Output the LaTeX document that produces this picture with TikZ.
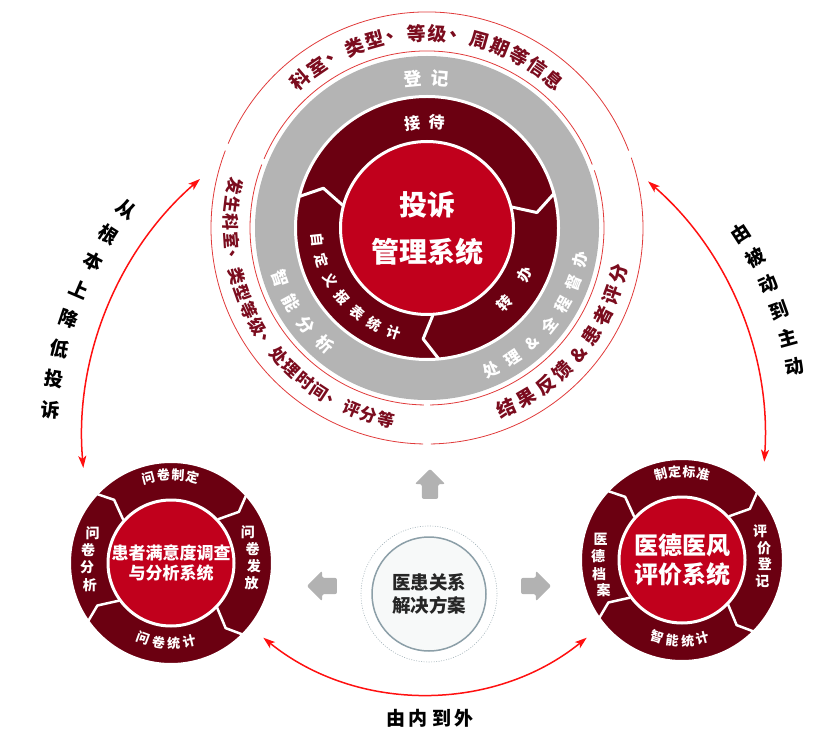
\documentclass[tikz,border=0pt]{standalone}
\usepackage{fontspec}
\setmainfont{Noto Sans CJK SC}
\usetikzlibrary{arrows.meta,shapes.arrows}
\definecolor{maroon}{HTML}{6B0011}
\definecolor{crimson}{HTML}{C1001C}
\definecolor{band}{HTML}{B4B4B4}
\definecolor{hair}{HTML}{E03A3A}
\definecolor{wine}{HTML}{7B0C1E}
\definecolor{flowred}{HTML}{FF1010}
\definecolor{block}{HTML}{B2B2B2}
\definecolor{rim}{HTML}{8C9FA8}
\definecolor{hubfill}{HTML}{F7F9F9}

\begin{document}
\begin{tikzpicture}[x=1pt,y=1pt,>={Stealth[length=12pt,width=8pt,inset=3pt]},
    core/.style={circle,fill=crimson,draw=white,line width=3pt,text=white,align=center,inner sep=0pt},
    ring/.style={circle,fill=maroon,draw=white,line width=3pt,inner sep=0pt},
    cut/.style={draw=white,line width=3pt,line join=round},
    hairline/.style={draw=hair,line width=0.8pt},
    outer/.style={text=wine,font=\bfseries\fontsize{19}{19}\selectfont,inner sep=0pt},
    onband/.style={text=white,font=\bfseries\fontsize{17}{17}\selectfont,inner sep=0pt},
    onring/.style={text=white,font=\bfseries\fontsize{15}{15}\selectfont,inner sep=0pt},
    small/.style={text=white,font=\bfseries\fontsize{13}{13}\selectfont,inner sep=0pt},
    side/.style={font=\bfseries\fontsize{19}{19}\selectfont,inner sep=0pt},
    flow/.style={<->,draw=flowred,line width=1.5pt},
    blockarrow/.style={single arrow,fill=block,inner sep=8pt,minimum height=30pt,single arrow head extend=7pt,rounded corners=2pt}]

    \useasboundingbox (0,0) rectangle (824,740);

    % complaint system
    \node[circle,fill=band,minimum size=344pt,inner sep=0pt] (band) at (427,512) {};
    \node[ring,minimum size=263pt] (ring) at (band) {};
    \node[core,minimum size=173pt,font=\bfseries\fontsize{28}{47}\selectfont] (tousu) at (band) {投诉\\管理系统};
    \begin{scope}[shift={(band.center)}]
    \foreach \a in {166,15,-85}
        \draw[cut] (\a:131) -- (\a-7:111) -- (\a-1:87);
    \foreach \r in {177,216}
        \foreach \s/\e in {21/157,159/269,271/379}
            \draw[hairline] (\s:\r) arc[start angle=\s,end angle=\e,radius=\r];
    \foreach \ch [count=\i, evaluate=\i as \a using 130.6-(\i-1)*6.25] in {科,室,、,类,型,、,等,级,、,周,期,等,信,息}
        \node[outer,rotate=\a-90] at (\a:195) {\ch};
    \foreach \ch [count=\i, evaluate=\i as \a using 167.8+(\i-1)*5.3] in {发,生,科,室,、,类,型,等,级,、,处,理,时,间,、,评,分,等}
        \node[outer,font=\bfseries\fontsize{17}{17}\selectfont,rotate=\a+90] at (\a:196) {\ch};
    \foreach \ch [count=\i, evaluate=\i as \a using -66.3+(\i-1)*6.63] in {结,果,反,馈,\&,患,者,评,分}
        \node[outer,rotate=\a+90] at (\a:197) {\ch};
    \foreach \ch [count=\i, evaluate=\i as \a using 95.4-(\i-1)*10.4] in {登,记}
        \node[onband,font=\bfseries\fontsize{18}{18}\selectfont,rotate=\a-90] at (\a:150) {\ch};
    \foreach \ch [count=\i, evaluate=\i as \a using 198.8+(\i-1)*10] in {智,能,分,析}
        \node[onband,rotate=\a+90] at (\a:155) {\ch};
    \foreach \ch [count=\i, evaluate=\i as \a using -65.5+(\i-1)*9] in {处,理,\&,全,程,督,办}
        \node[onband,font=\bfseries\fontsize{16}{16}\selectfont,rotate=\a+90] at (\a:156) {\ch};
    \foreach \ch [count=\i, evaluate=\i as \a using 98-(\i-1)*13.4] in {接,待}
        \node[onring,font=\bfseries\fontsize{16}{16}\selectfont,rotate=\a-90] at (\a:106) {\ch};
    \foreach \ch [count=\i, evaluate=\i as \a using 186.4+(\i-1)*11] in {自,定,义,报,表,统,计}
        \node[onring,font=\bfseries\fontsize{14}{14}\selectfont,rotate=\a+90] at (\a:110) {\ch};
    \foreach \ch [count=\i, evaluate=\i as \a using -44+(\i-1)*18.4] in {转,办}
        \node[onring,rotate=\a+90] at (\a:108) {\ch};
    \end{scope}

    % survey system
    \node[ring,minimum size=203pt] (wheel1) at (171,177) {};
    \node[core,minimum size=126pt,font=\bfseries\fontsize{17}{20}\selectfont] (survey) at (wheel1) {患者满意度调查\\与分析系统};
    \begin{scope}[shift={(wheel1.center)}]
    \foreach \a in {42,137,215,-45}
        \draw[cut,line width=2.5pt] (\a:101) -- (\a-5:85) -- (\a+1:64);
    \foreach \ch [count=\i, evaluate=\i as \a using 104.5-(\i-1)*9.5] in {问,卷,制,定}
        \node[small,rotate=\a-90] at (\a:88) {\ch};
    \foreach \ch [count=\i, evaluate=\i as \a using 22-(\i-1)*12] in {问,卷,发,放}
        \node[small,font=\bfseries\fontsize{14}{14}\selectfont] at (\a:83) {\ch};
    \foreach \ch [count=\i, evaluate=\i as \a using 250+(\i-1)*11] in {问,卷,统,计}
        \node[small,rotate=\a+90] at (\a:80) {\ch};
    \foreach \ch [count=\i, evaluate=\i as \a using 159+(\i-1)*12] in {问,卷,分,析}
        \node[small,font=\bfseries\fontsize{14}{14}\selectfont] at (\a:84) {\ch};
    \end{scope}

    % ethics system
    \node[ring,minimum size=203pt] (wheel2) at (682,180) {};
    \node[core,minimum size=126pt,font=\bfseries\fontsize{24}{29}\selectfont] (ethics) at (wheel2) {医德医风\\评价系统};
    \begin{scope}[shift={(wheel2.center)}]
    \foreach \a in {42,137,215,-45}
        \draw[cut,line width=2.5pt] (\a:101) -- (\a-5:85) -- (\a+1:64);
    \foreach \ch [count=\i, evaluate=\i as \a using 104-(\i-1)*9.3] in {制,定,标,准}
        \node[small,rotate=\a-90] at (\a:88) {\ch};
    \foreach \ch [count=\i, evaluate=\i as \a using 20-(\i-1)*11.5] in {评,价,登,记}
        \node[small,font=\bfseries\fontsize{14}{14}\selectfont] at (\a:83) {\ch};
    \foreach \ch [count=\i, evaluate=\i as \a using 252+(\i-1)*11] in {智,能,统,计}
        \node[small,rotate=\a+90] at (\a:81) {\ch};
    \foreach \ch [count=\i, evaluate=\i as \a using 166+(\i-1)*11.7] in {医,德,档,案}
        \node[small,font=\bfseries\fontsize{14}{14}\selectfont] at (\a:84) {\ch};
    \end{scope}

    % hub
    \node[circle,draw=rim,fill=hubfill,line width=1.5pt,minimum size=114pt,inner sep=0pt,align=center,text=black!85,font=\bfseries\fontsize{18.5}{23}\selectfont] (hub) at (429,146) {医患关系\\解决方案};
    \draw[rim!80,line width=0.6pt,dash pattern=on 1pt off 1.5pt] (hub.center) circle[radius=68];
    \node[blockarrow,shape border rotate=90] (pushup) at (430,252) {};
    \node[blockarrow,shape border rotate=180] (pushleft) at (326,154) {};
    \node[blockarrow] (pushright) at (532,154) {};

    % flows
    \coordinate (pivot) at (425,302);
    \coordinate (lt) at (200,561);
    \coordinate (lb) at (83.3,272.1);
    \coordinate (rt) at (648.1,558.6);
    \coordinate (rb) at (764.2,278.3);
    \coordinate (bl) at (263.3,102.3);
    \coordinate (br) at (586.7,102.3);
    \draw[flow] (lt) to[out=221,in=95,looseness=0.9] (lb);
    \draw[flow] (rt) to[out=-41,in=86,looseness=0.9] (rb);
    \draw[flow] (bl) to[out=-39,in=219,looseness=0.95] (br);
    \begin{scope}[shift={(pivot)}]
    \foreach \ch [count=\i, evaluate=\i as \a using 142.5+(\i-1)*4.75] in {从,根,本,上,降,低,投,诉}
        \node[side,rotate=\a-180] at (\a:376) {\ch};
    \foreach \ch [count=\i, evaluate=\i as \a using 33-(\i-1)*4.4] in {由,被,动,到,主,动}
        \node[side,rotate=\a] at (\a:376) {\ch};
    \end{scope}
    \node[side] (inout) at (430,22) {由\hspace{4pt}内\hspace{4pt}到\hspace{4pt}外};
\end{tikzpicture}
\end{document}
